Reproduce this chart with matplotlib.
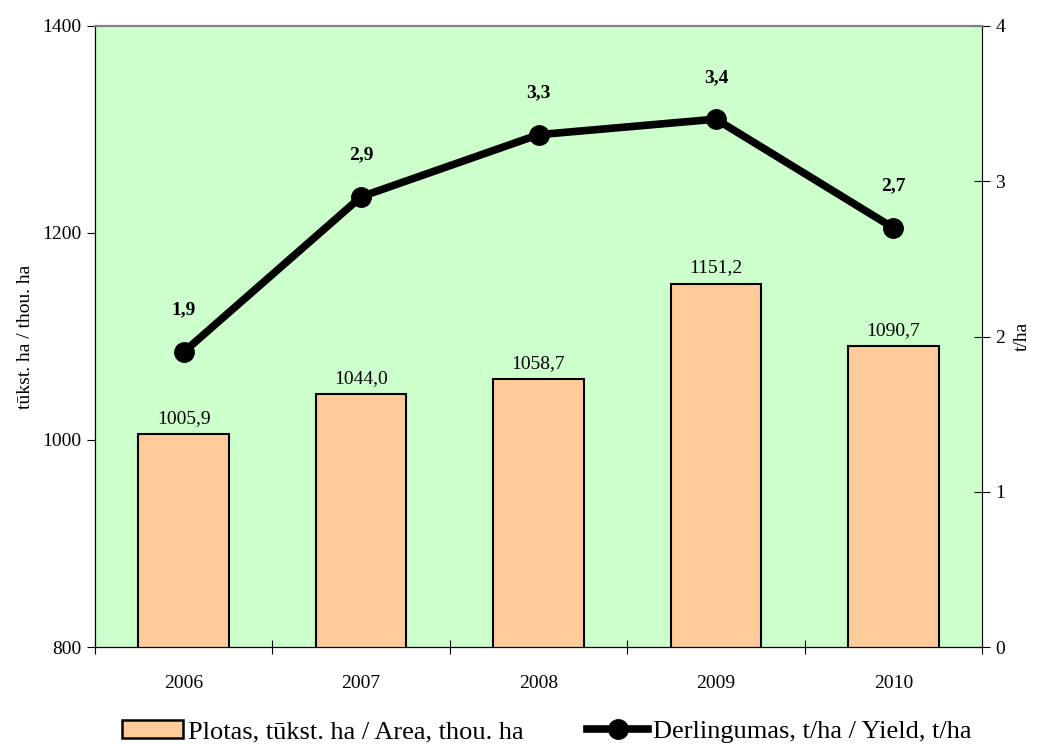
import numpy as np
import matplotlib.pyplot as plt
from matplotlib.lines import Line2D
from matplotlib.patches import Patch

years = ["2006", "2007", "2008", "2009", "2010"]
area = [1005.9, 1044.0, 1058.7, 1151.2, 1090.7]
yield_t = [1.9, 2.9, 3.3, 3.4, 2.7]

plt.rcParams['font.family'] = ['Liberation Serif', 'DejaVu Serif']
plt.rcParams['font.size'] = 14

fig = plt.figure(figsize=(10.4, 7.44), dpi=100)
ax = fig.add_axes([95 / 1040, 1 - 647 / 744, 887 / 1040, 621 / 744])
ax.set_facecolor('#ccffcc')

x = np.arange(len(years))
ax.bar(x, area, width=0.51, color='#ffcc99', edgecolor='black', linewidth=1.5, zorder=2)
for xi, v in zip(x, area):
    ax.annotate(f"{v:.1f}".replace('.', ','), (xi, v), xytext=(0, 5), textcoords='offset points',
                ha='center', va='bottom', fontsize=14)

ax.set_xlim(-0.5, len(years) - 0.5)
ax.set_ylim(800, 1400)
ax.set_yticks([800, 1000, 1200, 1400])
ax.set_xticks(x)
ax.set_xticklabels(years)
ax.set_xticks(np.arange(-0.5, len(years)), minor=True)
ax.tick_params(axis='x', which='major', length=0, pad=20)
ax.tick_params(axis='x', which='minor', length=10, direction='inout', width=0.8)
ax.tick_params(axis='y', direction='out', length=6, width=0.8)
ax.set_ylabel("tūkst. ha / thou. ha", fontsize=14, labelpad=6)
ax.spines['top'].set_color('#808080')
ax.spines['top'].set_linewidth(1.5)
ax.spines['right'].set_color('#808080')

ax2 = ax.twinx()
ax2.plot(x, yield_t, color='black', linewidth=5.5, marker='o', markersize=14, zorder=3)
for xi, v in zip(x, yield_t):
    ax2.annotate(f"{v:.1f}".replace('.', ','), (xi, v), xytext=(0, 24), textcoords='offset points',
                 ha='center', va='bottom', fontsize=14, fontweight='bold')
ax2.set_ylim(0, 4)
ax2.set_yticks([0, 1, 2, 3, 4])
ax2.tick_params(axis='y', direction='inout', length=12, width=0.8)
ax2.set_ylabel("t/ha", fontsize=14, labelpad=6)
ax2.spines['top'].set_color('#808080')
ax2.spines['top'].set_linewidth(1.5)

handles = [Patch(facecolor='#ffcc99', edgecolor='black', linewidth=1.8),
           Line2D([0], [0], color='black', linewidth=5.5, marker='o', markersize=14)]
labels = ["Plotas, tūkst. ha / Area, thou. ha", "Derlingumas, t/ha / Yield, t/ha"]
fig.legend(handles, labels, loc='center', bbox_to_anchor=(0.526, 0.017), ncol=2, frameon=False,
           fontsize=19, handlelength=2.3, handletextpad=0.2, columnspacing=2.4,
           borderpad=0, borderaxespad=0)

fig.savefig("out.png", dpi=100)
